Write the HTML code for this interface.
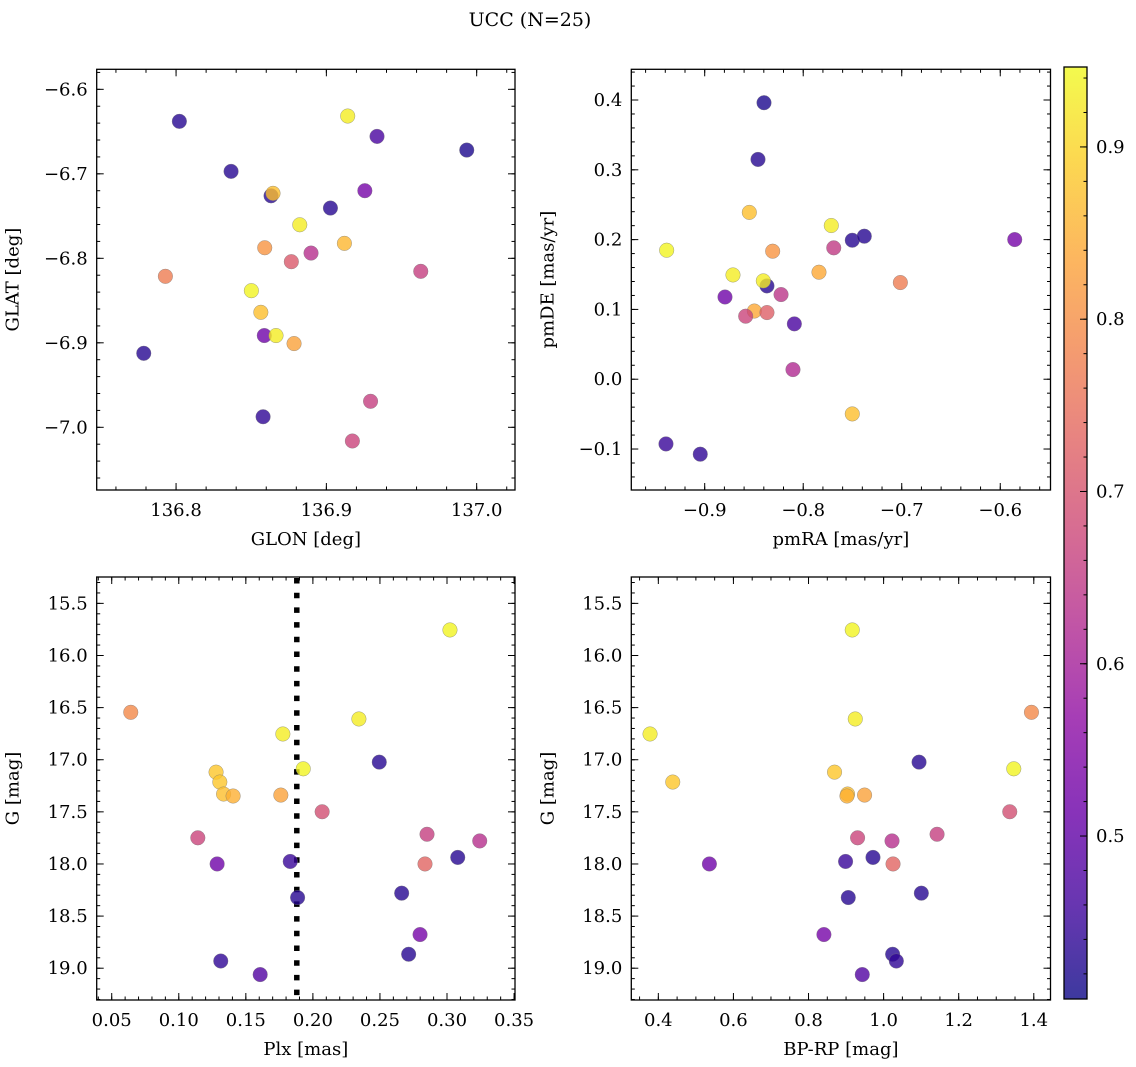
<!DOCTYPE html>
<html><head><meta charset="utf-8">
<style>
html,body{margin:0;padding:0;background:#fff;}
svg{display:block;font-family:"DejaVu Serif","Liberation Serif",serif;}
</style></head>
<body>
<svg id="fig" width="1136" height="1067" viewBox="0 0 1136 1067" xmlns="http://www.w3.org/2000/svg">
<text x="530" y="26" font-size="19" text-anchor="middle">UCC (N=25)</text>
</svg>
<script>
// ---- data ----
const glon = [136.8022,136.9142,136.9337,136.9934,136.8366,136.8632,136.8645,136.9256,136.9027,136.8823,136.8590,136.9120,136.8898,136.8767,136.7929,136.9628,136.8501,136.8564,136.8587,136.8665,136.8785,136.7785,136.9294,136.8579,136.9173];
const glat = [-6.6379,-6.6316,-6.6557,-6.6719,-6.6971,-6.7260,-6.7231,-6.7200,-6.7405,-6.7603,-6.7875,-6.7823,-6.7938,-6.8040,-6.8213,-6.8154,-6.8383,-6.8639,-6.8914,-6.8914,-6.9009,-6.9124,-6.9692,-6.9875,-7.0162];
const probTL = [0.43,0.93,0.47,0.42,0.43,0.43,0.87,0.53,0.43,0.93,0.81,0.86,0.63,0.71,0.77,0.66,0.94,0.87,0.52,0.93,0.83,0.43,0.66,0.44,0.67];

const pmra = [-0.8398,-0.8459,-0.8547,-0.7715,-0.7502,-0.7380,-0.5853,-0.9386,-0.8310,-0.7690,-0.8713,-0.7840,-0.7014,-0.8368,-0.8405,-0.8225,-0.8794,-0.8496,-0.8584,-0.8368,-0.8090,-0.8104,-0.7502,-0.9393,-0.9045];
const pmde = [0.3961,0.3149,0.2390,0.2202,0.1991,0.2049,0.2001,0.1848,0.1834,0.1882,0.1494,0.1533,0.1385,0.1337,0.1409,0.1213,0.1178,0.0977,0.0903,0.0955,0.0793,0.0138,-0.0497,-0.0927,-0.1074];
const probTR = [0.42,0.43,0.87,0.93,0.43,0.43,0.53,0.94,0.81,0.65,0.93,0.84,0.77,0.43,0.93,0.64,0.52,0.84,0.67,0.72,0.47,0.62,0.87,0.45,0.44];

const plx = [0.3022,0.0642,0.2343,0.1776,0.1928,0.2495,0.1278,0.1306,0.1334,0.1405,0.1761,0.2069,0.1142,0.2851,0.3244,0.2836,0.1286,0.1831,0.3080,0.2662,0.1886,0.2799,0.2714,0.1313,0.1607];
const gmag = [15.755,16.545,16.609,16.753,17.087,17.023,17.119,17.214,17.329,17.348,17.339,17.499,17.749,17.715,17.779,18.000,18.000,17.976,17.937,18.280,18.322,18.677,18.866,18.931,19.061];
const bprp = [0.9165,1.3938,0.9245,0.3779,1.3467,1.0944,0.8693,0.4384,0.9040,0.9024,0.9493,1.3360,0.9307,1.1424,1.0224,1.0251,0.5360,0.8987,0.9717,1.1005,0.9059,0.8410,1.0240,1.0339,0.9432];
const probBottom = [0.94,0.79,0.93,0.93,0.94,0.43,0.88,0.88,0.87,0.85,0.83,0.69,0.67,0.66,0.63,0.73,0.52,0.45,0.43,0.43,0.43,0.53,0.43,0.44,0.48];

const plxMean = [0.188];

const ticksGlon = [136.8,136.9,137.0];
const ticksGlat = [-6.6,-6.7,-6.8,-6.9,-7.0];
const ticksPmra = [-0.9,-0.8,-0.7,-0.6];
const ticksPmde = [0.4,0.3,0.2,0.1,0.0,-0.1];
const ticksPlx = [0.05,0.10,0.15,0.20,0.25,0.30,0.35];
const ticksG = [15.5,16.0,16.5,17.0,17.5,18.0,18.5,19.0];
const ticksBprp = [0.4,0.6,0.8,1.0,1.2,1.4];
const ticksCbar = [0.5,0.6,0.7,0.8,0.9];

const NS = "http://www.w3.org/2000/svg";
const svg = document.getElementById('fig');
const VMIN = 0.4054, VMAX = 0.9464;
const FS = 18;

const plasmaStops = ["#0d0887","#41049d","#6a00a8","#8f0da4","#b12a90","#cc4778","#e16462","#f2844b","#fca636","#fcce25","#f0f921"];
function hex(h){return [parseInt(h.substr(1,2),16),parseInt(h.substr(3,2),16),parseInt(h.substr(5,2),16)];}
function plasma(t){
  t=Math.max(0,Math.min(1,t));
  const f=t*10, i=Math.min(9,Math.floor(f)), r=f-i;
  const a=hex(plasmaStops[i]), b=hex(plasmaStops[i+1]);
  return 'rgb('+a.map((v,k)=>Math.round(v+(b[k]-v)*r)).join(',')+')';
}
function mk(tag, attrs, parent){
  const e=document.createElementNS(NS,tag);
  for(const k in attrs) e.setAttribute(k,attrs[k]);
  (parent||svg).appendChild(e);
  return e;
}
function fmt(v,d){const s=Math.abs(v).toFixed(d);return (v<-1e-9?'\u2212':'')+s;}

function panel(o){
  const g=mk('g',{});
  
  
  const sx=v=>o.x0+(v-o.xd[0])/(o.xd[1]-o.xd[0])*(o.x1-o.x0);
  const sy=v=>o.yinv ? o.y0+(v-o.yd[0])/(o.yd[1]-o.yd[0])*(o.y1-o.y0)
                      : o.y1-(v-o.yd[0])/(o.yd[1]-o.yd[0])*(o.y1-o.y0);
  const tg=mk('g',{stroke:'#000','stroke-width':1},g);
  
  
  for(let v=Math.ceil(o.xd[0]/o.xminor-1e-6)*o.xminor; v<=o.xd[1]+1e-9; v+=o.xminor){
    const X=sx(v);
    mk('line',{x1:X,x2:X,y1:o.y1,y2:o.y1-3.5},tg);
    mk('line',{x1:X,x2:X,y1:o.y0,y2:o.y0+3.5},tg);
  }
  const ylo=Math.min(o.yd[0],o.yd[1]), yhi=Math.max(o.yd[0],o.yd[1]);
  for(let v=Math.ceil(ylo/o.yminor-1e-6)*o.yminor; v<=yhi+1e-9; v+=o.yminor){
    const Y=sy(v);
    mk('line',{x1:o.x0,x2:o.x0+3.5,y1:Y,y2:Y},tg);
    mk('line',{x1:o.x1,x2:o.x1-3.5,y1:Y,y2:Y},tg);
  }
  o.xt.forEach(v=>{
    const X=sx(v);
    mk('line',{x1:X,x2:X,y1:o.y1,y2:o.y1-7},tg);
    mk('line',{x1:X,x2:X,y1:o.y0,y2:o.y0+7},tg);
    const t=mk('text',{x:X,y:o.y1+26,'font-size':FS,'text-anchor':'middle'},g);
    t.textContent=fmt(v,o.xdec);
    
    
  });
  o.yt.forEach(v=>{
    const Y=sy(v);
    mk('line',{x1:o.x0,x2:o.x0+7,y1:Y,y2:Y},tg);
    mk('line',{x1:o.x1,x2:o.x1-7,y1:Y,y2:Y},tg);
    const t=mk('text',{x:o.x0-9,y:Y+6,'font-size':FS,'text-anchor':'end'},g);
    t.textContent=fmt(v,o.ydec);
    
    
  });
  const xl=mk('text',{x:(o.x0+o.x1)/2,y:o.y1+55,'font-size':FS,'text-anchor':'middle'},g);
  xl.textContent=o.xlabel;
  
  
  const yx=o.x0-78, yy=(o.y0+o.y1)/2;
  const yl=mk('text',{x:yx,y:yy,'font-size':FS,'text-anchor':'middle',transform:'rotate(-90 '+yx+' '+yy+')'},g);
  yl.textContent=o.ylabel;
  
  
  if(o.vline){
    o.vline.forEach(v=>{
      const l=mk('line',{x1:sx(v),x2:sx(v),y1:o.y0+1,y2:o.y1,stroke:'#000','stroke-width':5.5,'stroke-dasharray':'5.5 9.2'},g);
      
      
    });
  }
  o.xs.forEach((v,i)=>{
    const c=mk('circle',{cx:sx(v),cy:sy(o.ys[i]),r:7.3,fill:plasma((o.ps[i]-VMIN)/(VMAX-VMIN)),'fill-opacity':0.8,stroke:'#777','stroke-width':0.5,'stroke-opacity':0.7},g);
    
    
  });
  const fr=mk('rect',{x:o.x0,y:o.y0,width:o.x1-o.x0,height:o.y1-o.y0,fill:'none',stroke:'#000','stroke-width':1.3},g);
  
  
}

panel({name:'glon-glat-panel',x0:96.7,x1:515,y0:69.3,y1:490,xd:[136.7472,137.0255],yd:[-7.0742,-6.5763],
  xs:glon,ys:glat,ps:probTL,xt:ticksGlon,yt:ticksGlat,xminor:0.02,yminor:0.02,xdec:1,ydec:1,xlabel:'GLON [deg]',ylabel:'GLAT [deg]'});
panel({name:'pmra-pmde-panel',x0:631.3,x1:1050.5,y0:69.3,y1:490,xd:[-0.9745,-0.5490],yd:[-0.1587,0.444],
  xs:pmra,ys:pmde,ps:probTR,xt:ticksPmra,yt:ticksPmde,xminor:0.02,yminor:0.02,xdec:1,ydec:1,xlabel:'pmRA [mas/yr]',ylabel:'pmDE [mas/yr]'});
panel({name:'plx-g-panel',x0:96.7,x1:515,y0:577,y1:1000,xd:[0.0388,0.3507],yd:[15.247,19.305],yinv:true,
  xs:plx,ys:gmag,ps:probBottom,xt:ticksPlx,yt:ticksG,xminor:0.01,yminor:0.1,xdec:2,ydec:1,xlabel:'Plx [mas]',ylabel:'G [mag]',vline:plxMean});
panel({name:'bprp-g-panel',x0:631.3,x1:1050.5,y0:577,y1:1000,xd:[0.328,1.4445],yd:[15.247,19.305],yinv:true,
  xs:bprp,ys:gmag,ps:probBottom,xt:ticksBprp,yt:ticksG,xminor:0.05,yminor:0.1,xdec:1,ydec:1,xlabel:'BP-RP [mag]',ylabel:'G [mag]'});

(function(){
  const x0=1064,x1=1087,y0=67,y1=999;
  const cb=mk('g',{});
  
  
  const defs=mk('defs',{},cb);
  const lg=mk('linearGradient',{id:'cbg',x1:0,y1:1,x2:0,y2:0},defs);
  for(let i=0;i<=20;i++){
    const t=i/20, v=VMIN+t*(VMAX-VMIN);
    mk('stop',{offset:t,'stop-color':plasma((v-VMIN)/(VMAX-VMIN)),'stop-opacity':0.8},lg);
  }
  mk('rect',{x:x0,y:y0,width:x1-x0,height:y1-y0,fill:'url(#cbg)'},cb);
  const sy=v=>y1-(v-VMIN)/(VMAX-VMIN)*(y1-y0);
  for(let v=0.42; v<VMAX; v+=0.02){
    const Y=sy(v);
    mk('line',{x1:x1,x2:x1-3.5,y1:Y,y2:Y,stroke:'#000','stroke-width':1},cb);
  }
  ticksCbar.forEach(v=>{
    const Y=sy(v);
    mk('line',{x1:x1,x2:x1-7,y1:Y,y2:Y,stroke:'#000','stroke-width':1},cb);
    const t=mk('text',{x:x1+9,y:Y+6,'font-size':FS},cb);
    t.textContent=v.toFixed(1);
    
    
  });
  mk('rect',{x:x0,y:y0,width:x1-x0,height:y1-y0,fill:'none',stroke:'#000','stroke-width':1.3},cb);
})();
</script>
</body></html>
